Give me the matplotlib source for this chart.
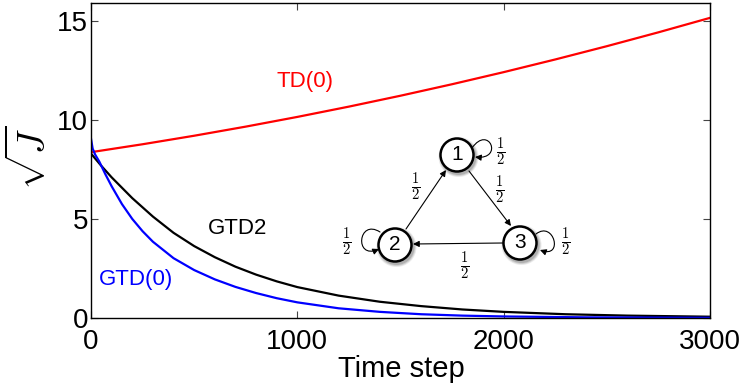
import matplotlib
matplotlib.use("Agg")
import matplotlib.pyplot as plt
from matplotlib.patches import Circle, FancyArrowPatch
from matplotlib.path import Path

plt.rcParams["font.family"] = ["Liberation Sans", "DejaVu Sans"]
plt.rcParams["mathtext.fontset"] = "cm"

# --- data ---
td_t = [0, 250, 500, 750, 1000, 1250, 1500, 1750, 2000, 2250, 2500, 2750, 3000]
td_v = [8.37, 8.77, 9.20, 9.66, 10.15, 10.67, 11.22, 11.80, 12.41, 13.05, 13.72, 14.42, 15.15]

gtd2_t = [0, 50, 100, 200, 300, 400, 500, 600, 700, 800, 900, 1000, 1200, 1400,
          1600, 1800, 2000, 2300, 2600, 3000]
gtd2_v = [8.3, 7.68, 7.1, 6.05, 5.12, 4.3, 3.63, 3.07, 2.59, 2.19, 1.85, 1.56, 1.13, 0.82,
          0.60, 0.43, 0.31, 0.19, 0.12, 0.065]

gtd0_t = [0, 8, 20, 40, 70, 100, 150, 200, 250, 300, 400, 500, 600, 700, 800, 900, 1000,
          1200, 1400, 1600, 1800, 2000, 2400, 3000]
gtd0_v = [9.05, 8.55, 8.25, 7.9, 7.25, 6.65, 5.75, 5.0, 4.38, 3.85, 3.02, 2.42, 1.95, 1.57,
          1.26, 1.0, 0.79, 0.49, 0.31, 0.19, 0.12, 0.078, 0.033, 0.01]

x_ticks = [0, 1000, 2000, 3000]
y_ticks = [0, 5, 10, 15]

# Markov chain inset (pixel positions in figure)
nodes = {"1": (457, 155), "2": (395, 245), "3": (520, 243)}
node_r = 16.5
half = r"$\frac{1}{2}$"

fig = plt.figure(figsize=(7.45, 3.86), dpi=100)
ax = fig.add_axes([91 / 745, 68 / 386, 619 / 745, 315 / 386])

ax.plot(td_t, td_v, color="#ff0000", lw=1.6)
ax.plot(gtd2_t, gtd2_v, color="black", lw=1.6)
ax.plot(gtd0_t, gtd0_v, color="#0000ff", lw=1.6)

ax.set_xlim(0, 3000)
ax.set_ylim(0, 15.9)
ax.set_xticks(x_ticks)
ax.set_yticks(y_ticks)
ax.tick_params(direction="in", top=True, right=True, length=5, width=0.8,
               labelsize=20, color="#444444")
ax.tick_params(axis="x", pad=8)
ax.tick_params(axis="y", pad=2)
for s in ax.spines.values():
    s.set_linewidth(1.0)

fig.text(305 / 745, 1 - 82 / 386, "TD(0)", color="#ff0000", fontsize=16, ha="center", va="center")
fig.text(238 / 745, 1 - 229 / 386, "GTD2", color="black", fontsize=16, ha="center", va="center")
fig.text(136 / 745, 1 - 280 / 386, "GTD(0)", color="#0000ff", fontsize=16, ha="center", va="center")
fig.text(401 / 745, 1 - 369 / 386, "Time step", fontsize=21, ha="center", va="center")
fig.text(31 / 745, 1 - 158 / 386, r"$\sqrt{J}$", fontsize=27, ha="center", va="center",
         rotation=90)

# overlay in pixel coordinates for the chain diagram
ov = fig.add_axes([0, 0, 1, 1])
ov.set_xlim(0, 745)
ov.set_ylim(386, 0)
ov.axis("off")

for name, (cx, cy) in nodes.items():
    for k, a in [(3.5, 0.12), (2.5, 0.18), (1.5, 0.25)]:
        ov.add_patch(Circle((cx + 1.5, cy + 2), node_r + k, facecolor="#555555",
                            edgecolor="none", alpha=a))
    ov.add_patch(Circle((cx, cy), node_r, facecolor="white", edgecolor="black", lw=1.8))
    ov.text(cx, cy, name, fontsize=15, ha="center", va="center")


def arrow(path_pts, codes=None):
    p = Path(path_pts) if codes is None else Path(path_pts, codes)
    ov.add_patch(FancyArrowPatch(path=p, arrowstyle="-|>", mutation_scale=9,
                                 color="black", lw=0.8))


# edges
arrow([(406, 229), (446, 170)])
arrow([(469, 171), (511, 226)])
arrow([(503, 243), (413, 244)])

# self-loops
C4 = [Path.MOVETO, Path.CURVE4, Path.CURVE4, Path.CURVE4]
arrow([(472, 148), (489, 124), (504, 160), (475, 157)], C4)
arrow([(380, 232), (358, 218), (354, 260), (379, 249)], C4)
arrow([(536, 234), (554, 220), (564, 259), (540, 250)], C4)

for (lx, ly) in [(501, 152), (416, 187), (500, 190), (347, 242), (566, 242), (465, 266)]:
    ov.text(lx, ly, half, fontsize=15, ha="center", va="center")

fig.savefig("out.png", dpi=100)
